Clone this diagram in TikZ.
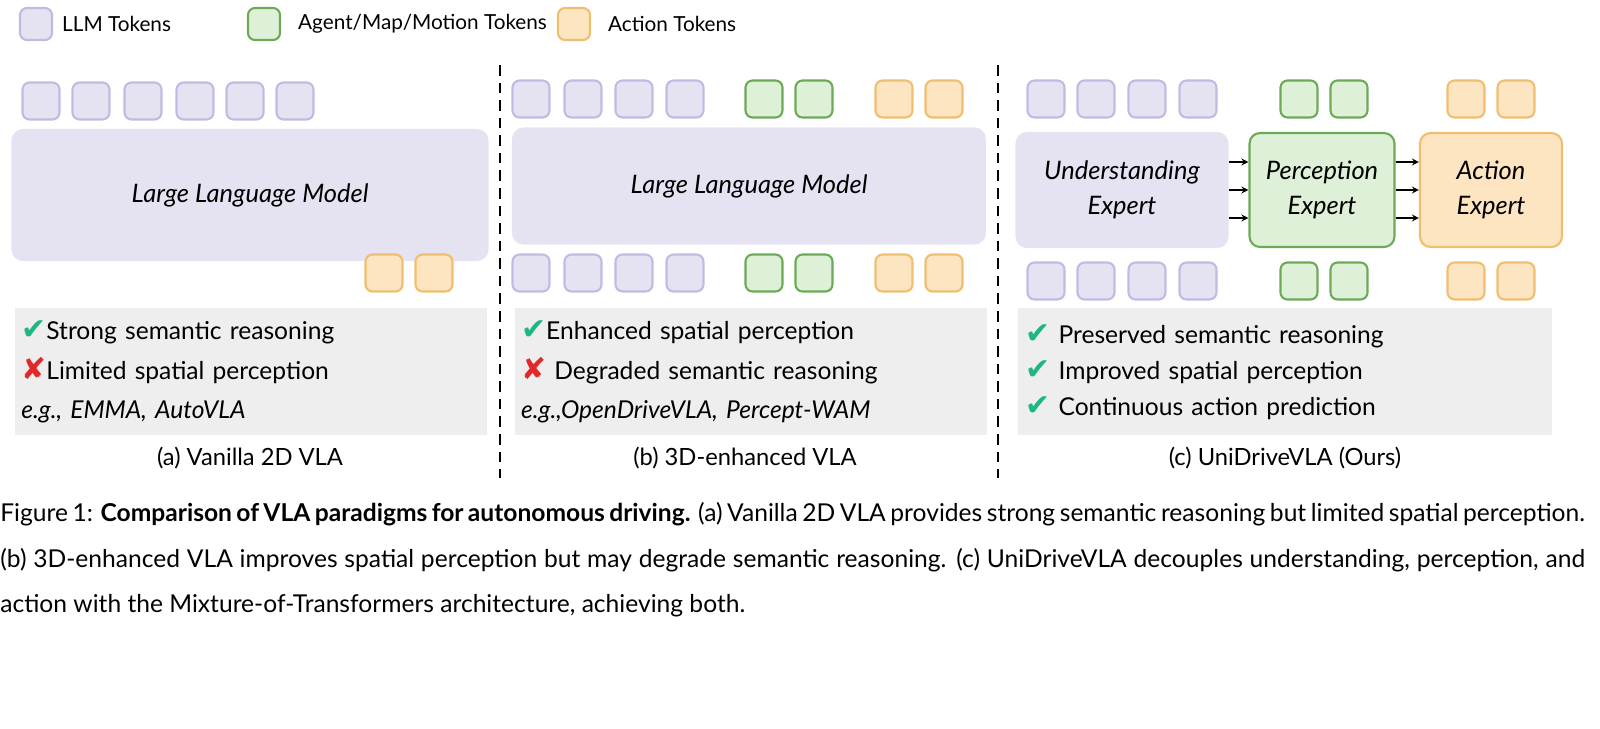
\documentclass[tikz,border=0pt]{standalone}
\usepackage{fontspec}
\setmainfont{Lato}
\newfontfamily\symfont{DejaVu Sans}
\usetikzlibrary{positioning}
\definecolor{llmfill}{RGB}{229,227,241}
\definecolor{llmdraw}{RGB}{192,187,226}
\definecolor{agfill}{RGB}{222,240,216}
\definecolor{agdraw}{RGB}{108,170,88}
\definecolor{acfill}{RGB}{252,229,192}
\definecolor{acdraw}{RGB}{240,190,112}
\definecolor{boxgray}{RGB}{238,238,238}
\definecolor{okgreen}{RGB}{30,182,132}
\definecolor{nored}{RGB}{226,40,40}
\tikzset{
	tok/.style={rectangle,rounded corners=4pt,line width=1.2pt,minimum size=0.74cm},
	lt/.style={tok,draw=llmdraw,fill=llmfill},
	gt/.style={tok,draw=agdraw,fill=agfill},
	ct/.style={tok,draw=acdraw,fill=acfill},
	model/.style={rectangle,rounded corners=6pt,line width=1.2pt,align=center,font=\fontsize{14.5}{20}\selectfont\itshape},
	info/.style={rectangle,fill=boxgray,minimum height=2.54cm,anchor=north west,align=left,font=\fontsize{14}{22.5}\selectfont},
	lbl/.style={font=\fontsize{13.5}{17}\selectfont},
	leg/.style={anchor=west,font=\fontsize{11.8}{15}\selectfont},
	sep/.style={line width=1.6pt,dash pattern=on 6pt off 4pt}
}
\def\ok{{\symfont\color{okgreen}\fontsize{17}{17}\selectfont\char"2714}}
\def\no{{\symfont\color{nored}\fontsize{17}{17}\selectfont\char"2718}}
\begin{document}
\begin{tikzpicture}[x=0.02cm,y=-0.02cm]
    % legend
    \node (leg1) [lt,minimum size=0.64cm] at (36,24) {};
    \node (legt1) [leg] at (56,24) {LLM Tokens};
    \node (leg2) [gt,minimum size=0.64cm] at (264,24) {};
    \node (legt2) [leg] at (292,24) {Agent/Map/Motion Tokens};
    \node (leg3) [ct,minimum size=0.64cm] at (574,24) {};
    \node (legt3) [leg] at (602,24) {Action Tokens};

    % (a) vanilla
    \foreach \i/\x in {1/41,2/91,3/143,4/195,5/245,6/295}
        \node (atop\i) [lt] at (\x,101) {};
    \node (allm) [model,draw=llmfill,fill=llmfill,minimum width=9.5cm,minimum height=2.6cm] at (250,195) {Large Language Model};
    \node (aact1) [ct] at (384,273) {};
    \node (aact2) [ct] at (434,273) {};
    \node (ainfo) [info,text width=9.2cm,minimum width=9.44cm] at (15,308)
        {\ok Strong semantic reasoning\\\no Limited spatial perception\\\itshape e.g., EMMA, AutoVLA};
    \node (acap) [lbl] at (250,458) {(a) Vanilla 2D VLA};

    \draw[sep] (500,65) -- (500,478);

    % (b) 3d-enhanced
    \foreach \i/\x in {1/531,2/583,3/634,4/685}{
        \node (btop\i) [lt] at (\x,99) {};
        \node (bbot\i) [lt] at (\x,273) {};}
    \foreach \i/\x in {1/764,2/814}{
        \node (btopg\i) [gt] at (\x,99) {};
        \node (bbotg\i) [gt] at (\x,273) {};}
    \foreach \i/\x in {1/894,2/944}{
        \node (btopa\i) [ct] at (\x,99) {};
        \node (bbota\i) [ct] at (\x,273) {};}
    \node (bllm) [model,draw=llmfill,fill=llmfill,minimum width=9.44cm,minimum height=2.3cm] at (749,186) {Large Language Model};
    \node (binfo) [info,text width=9.2cm,minimum width=9.4cm] at (515,308)
        {\ok Enhanced spatial perception\\\no\ Degraded semantic reasoning\\\itshape e.g.,OpenDriveVLA, Percept-WAM};
    \node (bcap) [lbl] at (745,458) {(b) 3D-enhanced VLA};

    \draw[sep] (998,65) -- (998,478);

    % (c) unidrivevla
    \foreach \i/\x in {1/1046,2/1096,3/1147,4/1198}{
        \node (ctop\i) [lt] at (\x,99) {};
        \node (cbot\i) [lt] at (\x,281) {};}
    \foreach \i/\x in {1/1299,2/1349}{
        \node (ctopg\i) [gt] at (\x,99) {};
        \node (cbotg\i) [gt] at (\x,281) {};}
    \foreach \i/\x in {1/1466,2/1516}{
        \node (ctopa\i) [ct] at (\x,99) {};
        \node (cbota\i) [ct] at (\x,281) {};}
    \node (und) [model,draw=llmfill,fill=llmfill,minimum width=4.22cm,minimum height=2.28cm] at (1122,190) {Understanding\\Expert};
    \node (per) [model,draw=agdraw,fill=agfill,minimum width=2.9cm,minimum height=2.28cm] at (1322,190) {Perception\\Expert};
    \node (act) [model,draw=acdraw,fill=acfill,minimum width=2.84cm,minimum height=2.28cm] at (1491,190) {Action\\Expert};
    \foreach \d in {-28,0,28}{
        \draw[-stealth,thick] ([yshift=\d*0.02cm]und.east) -- ([yshift=\d*0.02cm]per.west);
        \draw[-stealth,thick] ([yshift=\d*0.02cm]per.east) -- ([yshift=\d*0.02cm]act.west);}
    \node (cinfo) [info,text width=10.4cm,minimum width=10.68cm,font=\fontsize{14}{20.5}\selectfont] at (1018,308)
        {\ok\ Preserved semantic reasoning\\\ok\ Improved spatial perception\\\ok\ Continuous action prediction};
    \node (ccap) [lbl] at (1285,458) {(c) UniDriveVLA (Ours)};

    % figure caption
    \node (fig) [anchor=north west,text width=31.7cm,align=justify,font=\fontsize{14}{26}\selectfont,inner sep=0pt] at (0,502)
        {\hyphenpenalty=10000 Figure 1: \textbf{Comparison of VLA paradigms for autonomous driving.} (a) Vanilla 2D VLA provides strong semantic reasoning but limited spatial perception. (b) 3D-enhanced VLA improves spatial perception but may degrade semantic reasoning. (c) UniDriveVLA decouples understanding, perception, and action with the Mixture-of-Transformers architecture, achieving both.};
    \pgfresetboundingbox
    \useasboundingbox (0,0) rectangle (1600,728);
\end{tikzpicture}
\end{document}
